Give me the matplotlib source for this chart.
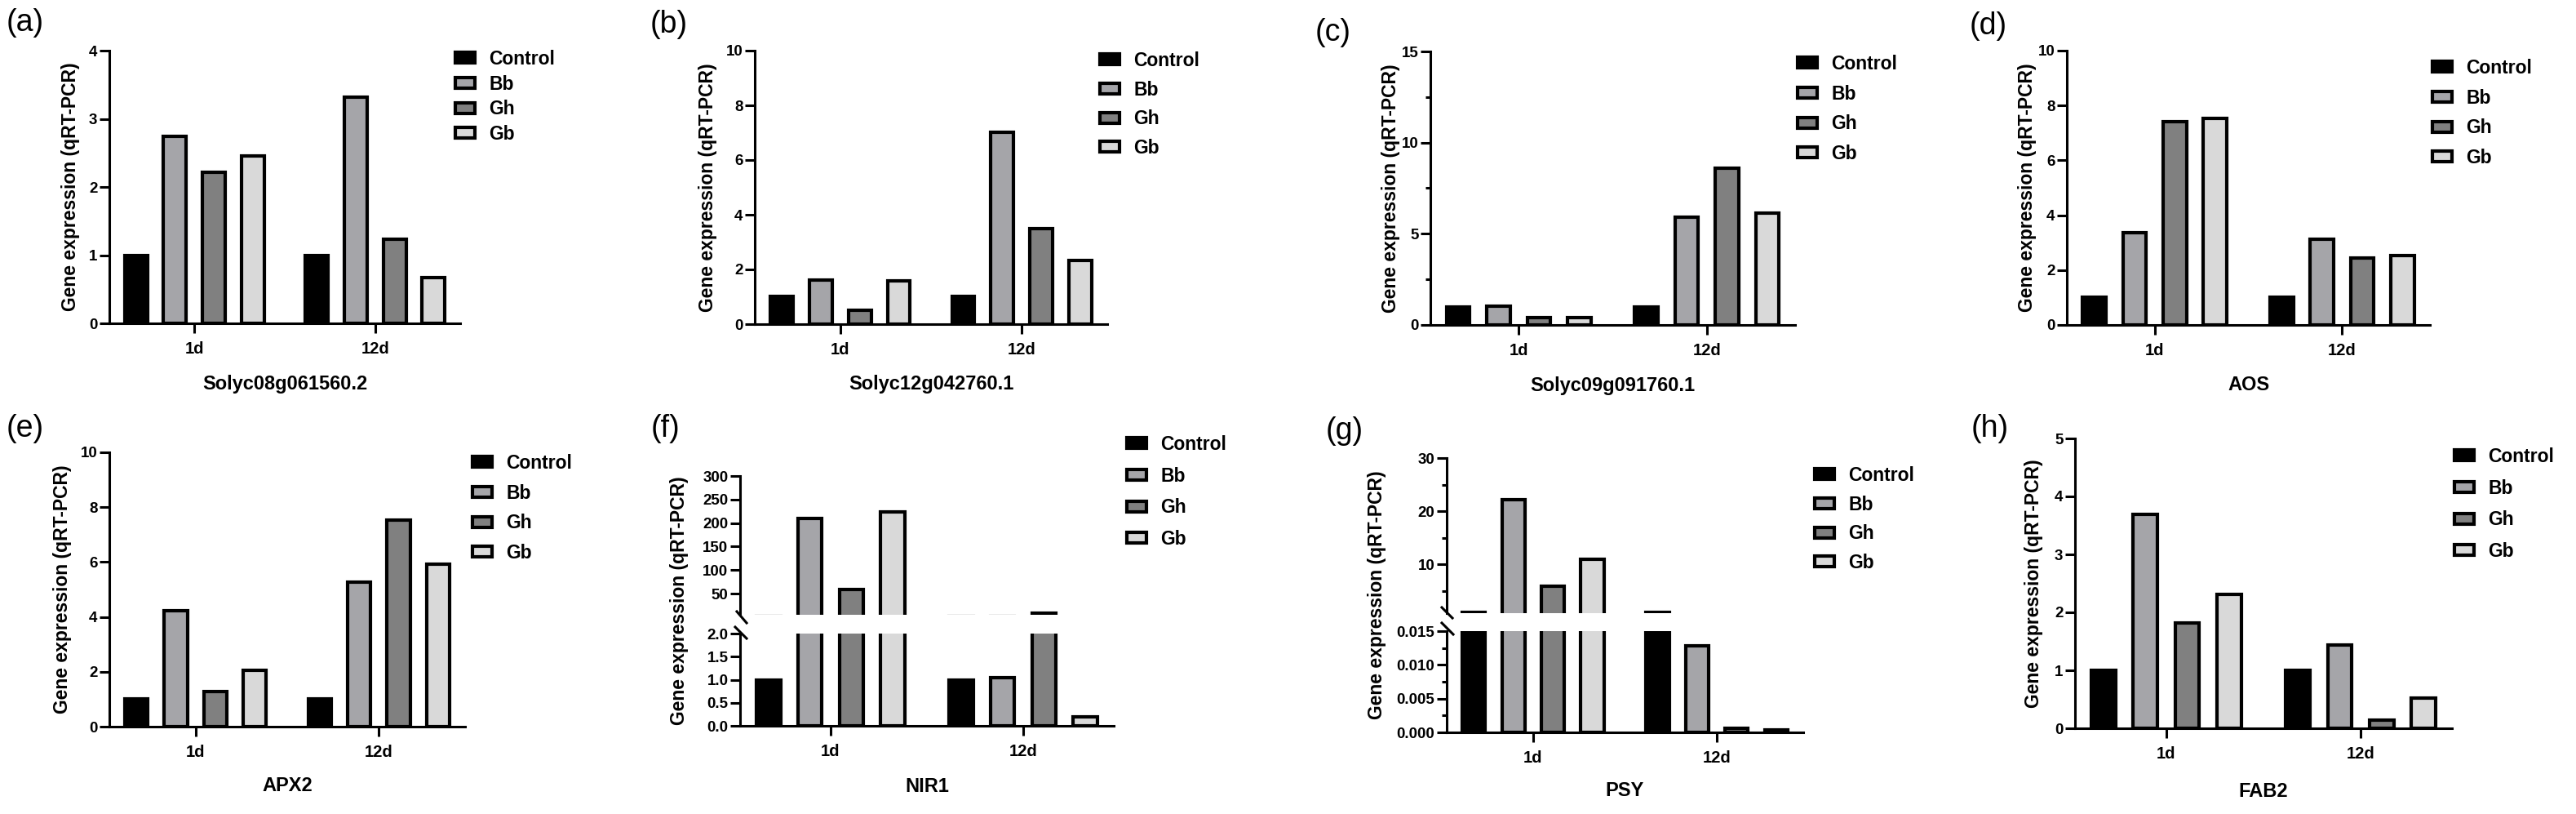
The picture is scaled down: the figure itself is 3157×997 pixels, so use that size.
import matplotlib
matplotlib.use('Agg')
import matplotlib.pyplot as plt
from matplotlib.patches import Patch
from matplotlib.lines import Line2D
from matplotlib.ticker import MultipleLocator, FormatStrFormatter
import numpy as np

# ---------------- data ----------------
days = ['1d', '12d']
groups = ['Control', 'Bb', 'Gh', 'Gb']
colors = ['#000000', '#a5a5a9', '#808080', '#d9d9d9']

genes = ['Solyc08g061560.2', 'Solyc12g042760.1', 'Solyc09g091760.1', 'AOS',
         'APX2', 'NIR1', 'PSY', 'FAB2']
letters = ['(a)', '(b)', '(c)', '(d)', '(e)', '(f)', '(g)', '(h)']

# rows: Control, Bb, Gh, Gb ; columns: 1d, 12d
vals_a = [[1.0, 1.0], [2.74, 3.32], [2.21, 1.23], [2.46, 0.67]]
vals_b = [[1.0, 1.0], [1.62, 7.02], [0.50, 3.50], [1.58, 2.34]]
vals_c = [[1.0, 1.0], [1.02, 5.92], [0.40, 8.58], [0.40, 6.14]]
vals_d = [[1.0, 1.0], [3.37, 3.12], [7.40, 2.45], [7.52, 2.54]]
vals_e = [[1.0, 1.0], [4.22, 5.27], [1.27, 7.53], [2.05, 5.93]]
vals_f = [[1.0, 1.0], [209.0, 1.04], [58.0, 8.0], [224.0, 0.20]]
vals_g = [[1.0, 1.0], [22.2, 0.0128], [5.9, 0.0006], [11.0, 0.0004]]
vals_h = [[1.0, 1.0], [3.69, 1.44], [1.81, 0.14], [2.31, 0.52]]

# ---------------- layout ----------------
W, H = 3157, 997
plt.rcParams['font.family'] = ['Liberation Sans', 'DejaVu Sans']
plt.rcParams['font.weight'] = 'bold'

fig = plt.figure(figsize=(W / 100, H / 100), dpi=100)

LW = 2.2
BAR_LW = 3.0
XLIM = (-0.47, 1.47)
OFFS = (np.arange(4) - 1.5) * 0.215
BW = 0.125
LEG_FS = 16.5


def rect(l, r, t, b):
    return [l / W, 1 - b / H, (r - l) / W, (b - t) / H]


def fx(x):
    return x / W


def fy(y):
    return 1 - y / H


def style(ax, show_x=True, show_bottom_spine=True):
    for s in ['top', 'right']:
        ax.spines[s].set_visible(False)
    ax.spines['left'].set_linewidth(LW)
    ax.spines['bottom'].set_linewidth(LW)
    if not show_bottom_spine:
        ax.spines['bottom'].set_visible(False)
    ax.tick_params(axis='y', which='major', direction='out', length=8.5,
                   width=LW, labelsize=13.5, pad=2)
    ax.tick_params(axis='y', which='minor', direction='out', length=4.5,
                   width=LW)
    if show_x:
        ax.tick_params(axis='x', which='major', direction='out', length=8.5,
                       width=LW, labelsize=14.5, pad=7)
        ax.set_xticks([0, 1])
        ax.set_xticklabels(days)
    else:
        ax.tick_params(axis='x', which='both', bottom=False, labelbottom=False)
    ax.set_xlim(*XLIM)
    ax.set_facecolor('none')


def bars(ax, vals):
    x = np.arange(len(days))
    for i, g in enumerate(groups):
        ax.bar(x + OFFS[i], vals[i], width=BW, color=colors[i],
               edgecolor='black', linewidth=BAR_LW, zorder=2)


def legend(x_patch, y_center, row_px):
    handles = [Patch(facecolor=c, edgecolor='black', linewidth=BAR_LW, label=g)
               for g, c in zip(groups, colors)]
    em = LEG_FS * 100 / 72
    ls = (row_px - 1.15 * em) / em
    fig.legend(handles=handles, loc='upper left',
               bbox_to_anchor=(fx(x_patch + 2), fy(y_center - 14)),
               bbox_transform=fig.transFigure, frameon=False, borderpad=0,
               borderaxespad=0, handlelength=1.05, handleheight=0.5,
               handletextpad=0.75, labelspacing=ls,
               prop=dict(weight='bold', size=LEG_FS))


def labels(ax, letter, lpos, gene, gpos):
    fig.text(fx(lpos[0]), fy(lpos[1]), letter, fontsize=27, fontweight='normal',
             ha='left', va='top')
    ax.set_xlabel(gene, fontsize=17, fontweight='bold')
    ax.xaxis.set_label_coords(fx(gpos[0]), fy(gpos[1]), transform=fig.transFigure)
    ax.xaxis.label.set_va('center')


def ylab(ax, pos):
    ax.set_ylabel('Gene expression (qRT-PCR)', fontsize=16.5, fontweight='bold')
    ax.yaxis.set_label_coords(fx(pos[0]), fy(pos[1]), transform=fig.transFigure)
    ax.yaxis.label.set_va('center')


def simple_panel(geom, vals, ymax, step, minor, letter, lpos, gene, gy,
                 ylx, leg):
    l, r, t, b = geom
    ax = fig.add_axes(rect(l, r, t, b))
    bars(ax, vals)
    style(ax)
    ax.set_ylim(0, ymax)
    ax.yaxis.set_major_locator(MultipleLocator(step))
    if minor:
        ax.yaxis.set_minor_locator(MultipleLocator(minor))
    ax.yaxis.set_major_formatter(FormatStrFormatter('%d'))
    labels(ax, letter, lpos, gene, ((l + r) / 2, gy))
    ylab(ax, (ylx, (t + b) / 2))
    legend(*leg)
    return ax


# top row
simple_panel((134, 564, 62, 396), vals_a, 4, 1, None, letters[0], (8, 10),
             genes[0], 470, 87, (556, 75, 34))
simple_panel((925, 1357, 62, 397), vals_b, 10, 2, None, letters[1], (797, 12),
             genes[1], 470, 867, (1346, 77, 39))
simple_panel((1753, 2200, 63, 398), vals_c, 15, 5, 2.5, letters[2], (1612, 22),
             genes[2], 473, 1705, (2201, 81, 40))
simple_panel((2533, 2978, 62, 398), vals_d, 10, 2, None, letters[3], (2414, 14),
             genes[3], 472, 2485, (2979, 86, 40))

# bottom row
simple_panel((134, 570, 554, 890), vals_e, 10, 2, None, letters[4], (8, 507),
             genes[4], 962, 77, (577, 570, 40))
simple_panel((2543, 3005, 537, 892), vals_h, 5, 1, None, letters[7], (2416, 507),
             genes[7], 969, 2492, (3006, 562, 42))


def broken_panel(l, r, t, brk_top, brk_bot, b, vals, top_lim, top_ticks,
                 top_minor, bot_lim, bot_step, bot_minor, bot_fmt,
                 letter, lpos, gene, gy, ylx, leg, marks):
    axt = fig.add_axes(rect(l, r, t, brk_top))
    axb = fig.add_axes(rect(l, r, brk_bot, b))
    bars(axt, vals)
    bars(axb, vals)
    style(axt, show_x=False, show_bottom_spine=False)
    style(axb)
    axt.set_ylim(*top_lim)
    axt.set_yticks(top_ticks)
    axt.yaxis.set_major_formatter(FormatStrFormatter('%d'))
    if top_minor:
        axt.yaxis.set_minor_locator(MultipleLocator(top_minor))
    axb.set_ylim(*bot_lim)
    axb.yaxis.set_major_locator(MultipleLocator(bot_step))
    if bot_minor:
        axb.yaxis.set_minor_locator(MultipleLocator(bot_minor))
    axb.yaxis.set_major_formatter(FormatStrFormatter(bot_fmt))
    labels(axb, letter, lpos, gene, ((l + r) / 2, gy))
    ylab(axb, (ylx, (t + b) / 2))
    legend(*leg)
    for (x1, y1, x2, y2) in marks:
        fig.add_artist(Line2D([fx(x1), fx(x2)], [fy(y1), fy(y2)], color='black',
                              lw=LW, transform=fig.transFigure))


broken_panel(907, 1365, 583, 753, 776, 889, vals_f, (5, 300),
             [50, 100, 150, 200, 250, 300], None, (0, 2.0), 0.5, None, '%.1f',
             letters[5], (798, 507), genes[5], 963, 833, (1379, 547, 42),
             [(903, 749, 915, 763), (901, 768, 915, 782)])

broken_panel(1773, 2210, 561, 751, 773, 897, vals_g, (0.77, 30),
             [10, 20, 30], 5, (0, 0.015), 0.005, 0.0025, '%.3f',
             letters[6], (1625, 510), genes[6], 968, 1687, (2222, 585, 39),
             [(1767, 744, 1780, 757), (1767, 763, 1781, 777)])

fig.savefig('out.png', dpi=100, facecolor='white')
